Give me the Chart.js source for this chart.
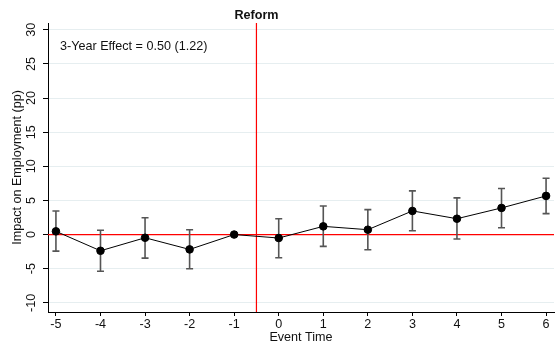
<!DOCTYPE html>
<html>
<head>
<meta charset="utf-8">
<script src="https://cdn.jsdelivr.net/npm/chart.js@4"></script>
<style>
  html, body { margin: 0; padding: 0; background: #fff; }
  #wrap { width: 559px; height: 346px; }
</style>
</head>
<body>
<div id="wrap"><canvas id="c"></canvas></div>
<script>
const eventTimes = [-5, -4, -3, -2, -1, 0, 1, 2, 3, 4, 5, 6];
const estimates  = [0.47, -2.38, -0.47, -2.18, 0, -0.51, 1.2, 0.71, 3.46, 2.32, 3.9, 5.66];
const ciUpper    = [3.45, 0.62, 2.47, 0.71, 0, 2.32, 4.19, 3.65, 6.4, 5.37, 6.74, 8.26];
const ciLower    = [-2.43, -5.37, -3.46, -5.02, 0, -3.4, -1.74, -2.23, 0.56, -0.66, 1.0, 3.06];
const xTickValues = [-5, -4, -3, -2, -1, 0, 1, 2, 3, 4, 5, 6];
const yTickValues = [-10, -5, 0, 5, 10, 15, 20, 25, 30];
const reformTime = -0.5;
const reformLabel = "Reform";
const effectNote = "3-Year Effect = 0.50 (1.22)";
const xTitle = "Event Time";
const yTitle = "Impact on Employment (pp)";

const FONT = "'Liberation Sans', Arial, Helvetica, sans-serif";
const FS = 12.6;

const overlay = {
  id: 'overlay',
  beforeDatasetsDraw(chart) {
    const {ctx, chartArea: a, scales: {x, y}} = chart;
    ctx.save();
    ctx.strokeStyle = '#ff0000';
    ctx.lineWidth = 1.2;
    const y0 = y.getPixelForValue(0);
    ctx.beginPath(); ctx.moveTo(a.left, y0); ctx.lineTo(a.right, y0); ctx.stroke();
    const xr = x.getPixelForValue(reformTime);
    ctx.beginPath(); ctx.moveTo(xr, a.top); ctx.lineTo(xr, a.bottom); ctx.stroke();
    ctx.strokeStyle = '#555555';
    ctx.lineWidth = 1.6;
    for (let i = 0; i < eventTimes.length; i++) {
      if (ciUpper[i] === ciLower[i]) continue;
      const px = x.getPixelForValue(eventTimes[i]);
      const pt = y.getPixelForValue(ciUpper[i]);
      const pb = y.getPixelForValue(ciLower[i]);
      ctx.beginPath();
      ctx.moveTo(px, pt); ctx.lineTo(px, pb);
      ctx.moveTo(px - 3.5, pt); ctx.lineTo(px + 3.5, pt);
      ctx.moveTo(px - 3.5, pb); ctx.lineTo(px + 3.5, pb);
      ctx.stroke();
    }
    ctx.restore();
  },
  afterDraw(chart) {
    const {ctx, chartArea: a, scales: {x}} = chart;
    ctx.save();
    ctx.fillStyle = '#111';
    ctx.font = 'bold ' + FS + 'px ' + FONT;
    ctx.textAlign = 'center';
    ctx.textBaseline = 'middle';
    ctx.fillText(reformLabel, x.getPixelForValue(reformTime), 16);
    ctx.font = FS + 'px ' + FONT;
    ctx.textAlign = 'left';
    ctx.fillText(effectNote, a.left + 12, a.top + 24);
    ctx.restore();
  }
};

new Chart(document.getElementById('c'), {
  type: 'line',
  data: {
    datasets: [{
      data: eventTimes.map((t, i) => ({x: t, y: estimates[i]})),
      borderColor: '#000',
      borderWidth: 1,
      pointBackgroundColor: '#000',
      pointBorderColor: '#000',
      pointRadius: 3.8,
      tension: 0
    }]
  },
  options: {
    responsive: true,
    maintainAspectRatio: false,
    animation: false,
    events: [],
    layout: { padding: { top: 23, right: 0, left: 0, bottom: 0 } },
    plugins: { legend: { display: false }, tooltip: { enabled: false } },
    scales: {
      x: {
        type: 'linear',
        min: -5.178,
        max: 6.178,
        afterBuildTicks: s => { s.ticks = xTickValues.map(v => ({value: v})); },
        afterFit: s => { s.height = 34; },
        grid: { drawOnChartArea: false, tickLength: 4, tickColor: '#000' },
        border: { color: '#000', width: 1 },
        ticks: { color: '#111', font: { family: FONT, size: FS }, padding: 1, maxRotation: 0 },
        title: { display: true, text: xTitle, color: '#111', font: { family: FONT, size: FS }, padding: { top: 0, bottom: 1 } }
      },
      y: {
        type: 'linear',
        min: -11.35,
        max: 31.0,
        afterBuildTicks: s => { s.ticks = yTickValues.map(v => ({value: v})); },
        afterFit: s => { s.width = 48; },
        grid: { color: '#e6eef0', lineWidth: 1, tickLength: 5, tickColor: '#000' },
        border: { color: '#000', width: 1 },
        ticks: { color: '#111', font: { family: FONT, size: FS }, padding: 2, minRotation: 90, maxRotation: 90, crossAlign: 'center' },
        title: { display: true, text: yTitle, color: '#111', font: { family: FONT, size: FS }, padding: { top: 10, bottom: 0 } }
      }
    }
  },
  plugins: [overlay]
});
</script>
</body>
</html>
